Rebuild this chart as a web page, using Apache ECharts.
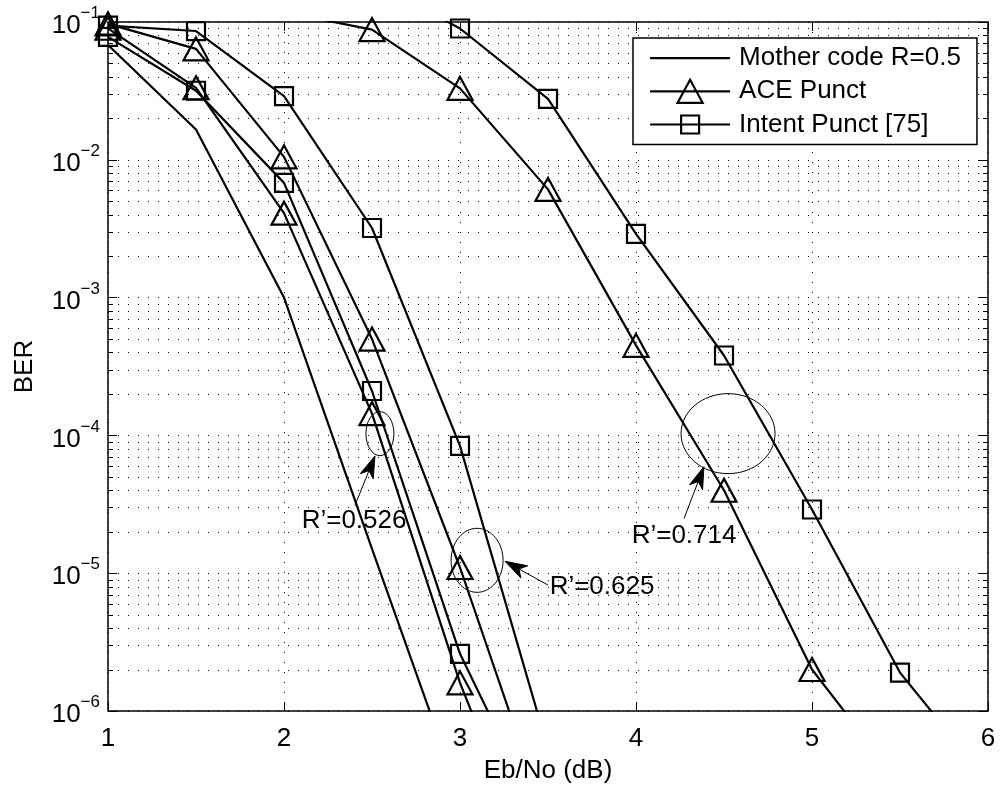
<!DOCTYPE html>
<html>
<head>
<meta charset="utf-8">
<title>BER vs Eb/No</title>
<script src="https://cdn.jsdelivr.net/npm/echarts@6/dist/echarts.min.js"></script>
<style>
  html, body { margin: 0; padding: 0; background: #fff; }
  #chart { width: 1002px; height: 789px; }
</style>
</head>
<body>
<div id="chart"></div>
<script>
// Eb/No grid (dB) shared by all curves
const ebNo = [1, 1.5, 2, 2.5, 3, 3.5, 4, 4.5, 5, 5.5, 6];

// Bit error rate per curve (values beyond the plotted range are clipped by the axes)
const motherCode = [0.068, 0.0166, 1.0e-3, 1.5e-5, 2.4e-7];
const ace526     = [0.090, 0.0333, 0.0041, 1.44e-4, 1.6e-6, 4.0e-8];
const intent526  = [0.078, 0.0317, 0.0068, 2.1e-4, 2.6e-6, 1.25e-7];
const ace625     = [0.097, 0.0638, 0.0105, 5.0e-4, 1.1e-5, 1.5e-7];
const intent625  = [0.094, 0.086, 0.029, 3.2e-3, 8.4e-5, 5.3e-7];
const ace714     = [0.20, 0.16, 0.118, 0.088, 0.033, 6.1e-3, 4.5e-4, 4.0e-5, 2.0e-6, 3.0e-7];
const intent714  = [0.35, 0.30, 0.26, 0.20, 0.0897, 0.0277, 2.9e-3, 3.8e-4, 2.9e-5, 1.9e-6, 3.1e-7];

const legendNames = ['Mother code R=0.5', 'ACE Punct', 'Intent Punct [75]'];

// Rate annotations: ring around a curve group, arrow and caption (data coordinates)
const rateNotes = [
  { label: 'R\u2019=0.526', ring: [2.545, 1.03e-4], ringR: [14, 22], tip: [2.517, 7.1e-5], tail: [2.403, 3.1e-5], text: [2.398, 2.4e-5] },
  { label: 'R\u2019=0.625', ring: [3.097, 1.24e-5], ringR: [26, 32], tip: [3.256, 1.22e-5], tail: [3.50, 8.2e-6], text: [3.807, 7.9e-6] },
  { label: 'R\u2019=0.714', ring: [4.523, 1.03e-4], ringR: [47, 40], tip: [4.386, 5.93e-5], tail: [4.273, 2.5e-5], text: [4.273, 1.88e-5] }
];

const FONT = '"Liberation Sans", Arial, Helvetica, sans-serif';
const X_MIN = 1, X_MAX = 6, Y_MIN = 1e-6, Y_MAX = 1e-1;
const MINOR_TICK = 5;

// log-axis minor grid levels 2..9 x 10^n inside the visible decades
const minorLevels = [];
for (let e = -6; e < -1; e++) {
  for (let k = 2; k <= 9; k++) minorLevels.push(k * Math.pow(10, e));
}

function pairs(ys) { return ys.map((y, i) => [ebNo[i], y]); }

function curve(name, ys, symbol, size) {
  return {
    type: 'line', name, data: pairs(ys),
    symbol, symbolSize: size, showSymbol: symbol !== 'none', showAllSymbol: true,
    clip: true, silent: true, z: 3,
    lineStyle: { color: '#000', width: 2.2 },
    itemStyle: { color: 'rgba(0,0,0,0)', borderColor: '#000', borderWidth: 2.2 },
    emphasis: { disabled: true }
  };
}

const TRI = [25, 23];
const SQ = 18;

const dotted = { color: '#000', width: 1, type: [1, 9] };

const chart = echarts.init(document.getElementById('chart'), null, { renderer: 'canvas' });

chart.setOption({
  animation: false,
  backgroundColor: '#fff',
  textStyle: { fontFamily: FONT },
  grid: { left: 108, right: 14, top: 22, bottom: 76, show: true, borderColor: '#000', borderWidth: 1.5, backgroundColor: 'rgba(0,0,0,0)', z: 4 },
  legend: {
    data: [
      { name: legendNames[0], icon: 'path://M0 0M80 24M0 12H80' },
      { name: legendNames[1], icon: 'path://M0 0M80 24M0 12H80M27.5 23.5L40 0.5L52.5 23.5Z' },
      { name: legendNames[2], icon: 'path://M0 0M80 24M0 12H80M31 3H49V21H31Z' }
    ],
    orient: 'vertical', left: 633, top: 38,
    padding: [7, 16, 7, 16], itemGap: 7, itemWidth: 80, itemHeight: 24,
    backgroundColor: '#fff', borderColor: '#000', borderWidth: 1.5, borderRadius: 0,
    selectedMode: false, z: 10,
    itemStyle: { color: 'rgba(0,0,0,0)', borderColor: '#000', borderWidth: 2.2 },
    lineStyle: { color: '#000', width: 2.2 },
    textStyle: { fontFamily: FONT, fontSize: 26, color: '#000', padding: [0, 0, 0, 4] }
  },
  xAxis: [
    {
      type: 'value', min: X_MIN, max: X_MAX, interval: 1,
      name: 'Eb/No (dB)', nameLocation: 'middle', nameGap: 47,
      nameTextStyle: { fontFamily: FONT, fontSize: 26, color: '#000' },
      axisLine: { show: false },
      axisTick: { show: true, inside: true, length: 9, lineStyle: { color: '#000', width: 1 } },
      axisLabel: { fontFamily: FONT, fontSize: 26, color: '#000', margin: 15 },
      splitLine: { show: true, lineStyle: dotted }
    },
    {
      type: 'value', position: 'top', min: X_MIN, max: X_MAX, interval: 1,
      axisLine: { show: false },
      axisTick: { show: true, inside: true, length: 9, lineStyle: { color: '#000', width: 1 } },
      axisLabel: { show: false }, splitLine: { show: false }
    }
  ],
  yAxis: [
    {
      type: 'log', logBase: 10, min: Y_MIN, max: Y_MAX,
      name: 'BER', nameLocation: 'middle', nameGap: 70, nameRotate: 90,
      nameTextStyle: { fontFamily: FONT, fontSize: 26, color: '#000' },
      axisLine: { show: false },
      axisTick: { show: true, inside: true, length: 9, lineStyle: { color: '#000', width: 1 } },
      axisLabel: {
        margin: 8, color: '#000',
        formatter: (v) => {
          const e = Math.round(Math.log10(v));
          return '{b|10}{s|' + (e < 0 ? '\u2212' : '') + Math.abs(e) + '}';
        },
        rich: {
          b: { fontFamily: FONT, fontSize: 26, lineHeight: 34, verticalAlign: 'bottom', color: '#000' },
          s: { fontFamily: FONT, fontSize: 17, lineHeight: 22, verticalAlign: 'top', color: '#000' }
        }
      },
      splitLine: { show: true, lineStyle: dotted }
    },
    {
      type: 'log', logBase: 10, min: Y_MIN, max: Y_MAX, position: 'right',
      axisLine: { show: false },
      axisTick: { show: true, inside: true, length: 9, lineStyle: { color: '#000', width: 1 } },
      axisLabel: { show: false }, splitLine: { show: false }
    }
  ],
  series: [
    {
      type: 'custom', name: 'minor grid', silent: true, z: 1,
      xAxisIndex: 0, yAxisIndex: 0,
      data: minorLevels.map(v => [X_MIN, v]),
      renderItem: (params, api) => {
        const v = api.value(1);
        const a = api.coord([X_MIN, v]);
        const b = api.coord([X_MAX, v]);
        const y = Math.round(a[1]) + 0.5;
        return {
          type: 'group',
          children: [
            { type: 'line', shape: { x1: a[0], y1: y, x2: b[0], y2: y }, style: { stroke: '#000', lineWidth: 1, lineDash: [1, 9] } },
            { type: 'line', shape: { x1: a[0], y1: y, x2: a[0] + MINOR_TICK, y2: y }, style: { stroke: '#000', lineWidth: 1 } },
            { type: 'line', shape: { x1: b[0] - MINOR_TICK, y1: y, x2: b[0], y2: y }, style: { stroke: '#000', lineWidth: 1 } }
          ]
        };
      }
    },
    curve(legendNames[0], motherCode, 'none', 0),
    curve(legendNames[1], ace526, 'triangle', TRI),
    curve(legendNames[2], intent526, 'rect', SQ),
    curve(legendNames[1], ace625, 'triangle', TRI),
    curve(legendNames[2], intent625, 'rect', SQ),
    curve(legendNames[1], ace714, 'triangle', TRI),
    curve(legendNames[2], intent714, 'rect', SQ)
  ]
});

// Rate annotations placed through the chart's own coordinate conversion
function arrowHead(tip, tail, len, half) {
  const dx = tip[0] - tail[0], dy = tip[1] - tail[1];
  const d = Math.hypot(dx, dy);
  const ux = dx / d, uy = dy / d, nx = -uy, ny = ux;
  const bx = tip[0] - len * ux, by = tip[1] - len * uy;
  const notch = [tip[0] - 0.72 * len * ux, tip[1] - 0.72 * len * uy];
  return {
    points: [tip, [bx + half * nx, by + half * ny], notch, [bx - half * nx, by - half * ny]],
    notch
  };
}

const toPx = (p) => chart.convertToPixel({ gridIndex: 0 }, p);
const graphics = [];
rateNotes.forEach((n) => {
  const c = toPx(n.ring);
  const tip = toPx(n.tip);
  const tail = toPx(n.tail);
  const t = toPx(n.text);
  const head = arrowHead(tip, tail, 22, 7);
  graphics.push(
    { type: 'ellipse', z: 20, silent: true, shape: { cx: c[0], cy: c[1], rx: n.ringR[0], ry: n.ringR[1] }, style: { fill: null, stroke: '#000', lineWidth: 1 } },
    { type: 'line', z: 20, silent: true, shape: { x1: tail[0], y1: tail[1], x2: head.notch[0], y2: head.notch[1] }, style: { stroke: '#000', lineWidth: 1 } },
    { type: 'polygon', z: 20, silent: true, shape: { points: head.points }, style: { fill: '#000', stroke: '#000', lineWidth: 1 } },
    { type: 'text', z: 20, silent: true, x: t[0], y: t[1], style: { text: n.label, font: '26px ' + FONT, fill: '#000', align: 'center', verticalAlign: 'middle', textAlign: 'center', textVerticalAlign: 'middle' } }
  );
});
chart.setOption({ graphic: graphics });
</script>
</body>
</html>
